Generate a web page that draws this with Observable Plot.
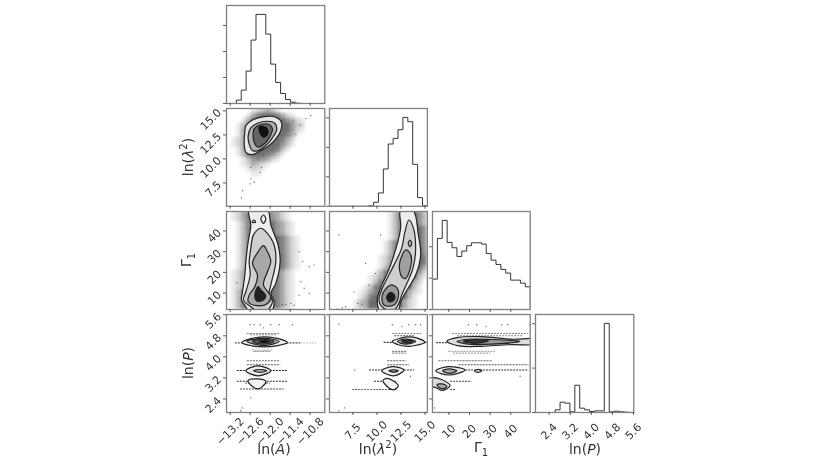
<!DOCTYPE html>
<html><head><meta charset="utf-8">
<script src="https://cdn.jsdelivr.net/npm/d3@7"></script>
<script src="https://cdn.jsdelivr.net/npm/@observablehq/plot@0.6"></script>
<style>
html,body{margin:0;padding:0;background:#fff;}
#chart{position:relative;width:822px;height:463px;overflow:hidden;font-family:"DejaVu Sans";filter:blur(0.4px);}
#chart svg{position:absolute;overflow:visible;}
.lab{position:absolute;font-size:14px;color:#333;white-space:nowrap;transform:translate(-50%,-50%);line-height:1;}
.lab.rot{transform:translate(-50%,-50%) rotate(-90deg);}
.lab sup{font-size:10px;line-height:0;}
.lab sub{font-size:10px;line-height:0;}
</style></head><body><div id="chart"></div>
<script>
// axis domains and ticks
const domA=[-13.31,-10.36], domL=[5.07,15.25], domG=[2.07,49.4], domP=[1.885,5.61];
const ticksA=[-13.2,-12.6,-12.0,-11.4,-10.8], ticksL=[7.5,10,12.5,15], ticksG=[10,20,30,40], ticksP=[2.4,3.2,4.0,4.8,5.6];
// histogram counts (20 bins each)
const histA=[0,0,128,513,1244,2436,3423,3423,2667,1513,808,385,154,51,13,0,0,0,0,0];
const histL=[0,0,0,0,0,0,0,0,23,136,452,1266,2113,2305,2599,3017,2870,1424,294,23];
const histG=[968,2266,2840,2138,1968,1691,1862,2032,2128,2128,2085,1787,1574,1436,1277,1160,936,936,840,723];
const histP=[0,0,0,0,60,232,210,15,614,97,60,22,37,37,2007,15,30,15,7,0];
// scatter haze grids, darkness 0-9, top row first
const gridAL=["00000123431000000000","00001467776421000000","00014777777754210000","00136777777775320000","00146777777775210000","00146777777764100000","01246777777642000000","01246777777531000000","00146777776310000000","00136777653100000000","00013565421000000000","00012432100000000000","00001221000000000000","00000110000000000000"];
const gridAG=["01246777754210000000","01246777754210000000","00136777775421000000","00136777775421000000","00136777775421000000","00136777777642100000","00136777777642100000","00136777777642100000","00136777777642100000","00136777777642100000","00136777777642100000","00136777777642100000","01246777776421000000","01246777776421000000","01246777776421000000","01246777776421000000","01367777776421000000","01367777776421000000","01367777776421000000","01367777776421000000"];
const gridLG=["00000000000013677753","00000000000013677753","00000000000013677753","00000000000013677775","00000000000013677775","00000000000013677775","00000000000136777775","00000000000136777775","00000000000136777775","00000000001246777776","00000000001246777776","00000000001367777774","00000000013677777752","00000000124677777731","00000000136777777420","00000001367777777310","00000012467777774210","00000013677777773100","00000134777777742100","00000134777777742100"];
// contour levels [x,y] in data units
const alOuter=[[-12.73,13.47],[-12.53,14.06],[-12.18,14.41],[-11.83,14.34],[-11.66,13.82],[-11.68,12.95],[-11.83,12.08],[-12.03,11.39],[-12.28,10.87],[-12.53,10.45],[-12.73,10.69],[-12.78,11.91],[-12.76,12.78]];
const alMid=[[-12.58,13.23],[-12.38,13.72],[-12.08,13.92],[-11.86,13.72],[-11.80,13.13],[-11.93,12.19],[-12.13,11.39],[-12.36,10.87],[-12.53,10.87],[-12.63,11.56],[-12.66,12.43]];
const alInner=[[-12.48,13.13],[-12.28,13.58],[-12.03,13.58],[-11.93,13.13],[-12.03,12.19],[-12.18,11.56],[-12.36,11.22],[-12.48,11.74],[-12.51,12.60]];
const alCore=[[-12.34,13.4],[-12.1,13.3],[-12.05,12.6],[-12.2,12.2],[-12.32,12.7]];
const agOuter=[[-12.63,50],[-12.58,42.9],[-12.66,34.8],[-12.73,25.2],[-12.76,18.7],[-12.83,10.6],[-12.86,6.6],[-12.73,3.4],[-12.63,1],[-11.98,1],[-11.88,5.8],[-11.98,9.8],[-11.83,14.7],[-11.70,25.2],[-11.76,33.2],[-11.98,42.9],[-12.08,50]];
const agMid=[[-12.28,41.3],[-12.5,38.1],[-12.58,31.6],[-12.63,25.2],[-12.6,18.7],[-12.73,10.6],[-12.8,6.6],[-12.58,3.4],[-12.38,1],[-12.13,1],[-11.93,5.8],[-12.03,9.8],[-11.98,13.9],[-11.83,25.2],[-11.88,33.2],[-12.13,39.7]];
const agInner=[[-12.2,32.9],[-12.36,30],[-12.53,24.4],[-12.38,18.7],[-12.46,13.1],[-12.63,9],[-12.66,5.8],[-12.38,3.9],[-12.08,5],[-11.98,8.2],[-12.2,13.9],[-12.08,20.3],[-11.98,25.2],[-12.08,30]];
const agCore=[[-12.36,13.1],[-12.46,9],[-12.4,6.1],[-12.2,6.6],[-12.13,8.7],[-12.28,11.5]];
const agLoop1=[[-12.2,47.7],[-12.13,45.8],[-12.2,43.7],[-12.28,45.8]];
const agLoop2=[[-12.54,44.2],[-12.44,44.2],[-12.48,45.3]];
const lgOuter=[[12.47,50],[12.47,41.3],[11.42,23.5],[10.38,12.3],[10.03,6.6],[10.38,1],[12.12,1],[12.47,5.8],[12.81,9],[14.03,18.7],[14.55,28.4],[14.31,38.1],[13.75,50]];
const lgMid=[[13.33,45.3],[12.92,39.7],[12.57,31.6],[11.77,23.5],[10.56,12.3],[10.21,6.6],[10.73,2.6],[11.77,1.8],[12.29,5],[12.57,9],[13.75,21.9],[14.03,31.6],[13.75,42.1]];
const lgUpper=[[12.99,30.8],[12.36,24.4],[12.57,17.9],[12.99,17.1],[13.61,26],[13.33,30]];
const lgLoop=[[13.44,35.6],[13.61,34],[13.44,32.4],[13.26,34]];
const lgLow=[[11.42,13.9],[10.56,9],[10.73,4.2],[11.77,4.2],[12.22,8.2],[12.12,12.3]];
const lgCore=[[11.42,10.3],[11.01,8.2],[11.25,5.8],[11.77,6.6],[11.84,9]];
const apOuter=[[-12.85,4.54],[-12.55,4.7],[-12.18,4.76],[-11.78,4.7],[-11.48,4.54],[-11.78,4.43],[-12.18,4.38],[-12.55,4.42]];
const apMid=[[-12.7,4.59],[-12.18,4.70],[-11.73,4.59],[-12.18,4.43]];
const apInner=[[-12.53,4.59],[-12.2,4.67],[-11.88,4.59],[-12.2,4.48]];
const apCore=[[-12.35,4.58],[-12.18,4.64],[-12.0,4.58],[-12.18,4.52]];
const apB1=[[-12.73,3.47],[-12.36,3.66],[-11.98,3.47],[-12.36,3.28]];
const apB2=[[-12.5,3.47],[-12.3,3.52],[-12.1,3.47],[-12.3,3.41]];
const apC=[[-12.66,3.10],[-12.38,3.16],[-12.13,3.07],[-12.26,2.84],[-12.38,2.78],[-12.53,2.87]];
const lpOuter=[[11.6,4.59],[12.47,4.71],[13.33,4.76],[14.2,4.71],[15,4.55],[14.2,4.45],[13.33,4.4],[12.29,4.45]];
const lpMid=[[12.12,4.59],[12.99,4.67],[14.03,4.59],[12.99,4.48]];
const lpInner=[[12.57,4.59],[13.16,4.65],[13.75,4.59],[13.16,4.52]];
const lpB1=[[10.49,3.47],[11.6,3.63],[12.81,3.5],[11.77,3.28]];
const lpB2=[[11.25,3.47],[11.77,3.51],[12.22,3.47],[11.77,3.42]];
const lpC=[[10.63,3.10],[11.08,3.18],[12.22,2.91],[11.77,2.75],[11.25,2.82]];
const gpOuter=[[9,4.59],[14.7,4.74],[26,4.77],[40.5,4.67],[49.4,4.70],[55,4.7],[55,4.45],[49.4,4.45],[38.9,4.46],[26,4.4],[14.7,4.42]];
const gpMid=[[13.9,4.59],[19.5,4.67],[30.8,4.66],[44.5,4.59],[30.8,4.48],[19.5,4.48]];
const gpCore=[[17.1,4.59],[22.7,4.65],[29.2,4.61],[22.7,4.51]];
const gpB1=[[3.7,3.47],[9.8,3.63],[17.9,3.5],[9.8,3.31]];
const gpB2=[[6.9,3.47],[10.2,3.54],[13.9,3.47],[10.2,3.37]];
const gpLoop=[[22.4,3.47],[24,3.52],[26,3.47],[24,3.41]];
const gpC=[[0,3.22],[2.1,3.22],[5.8,3.16],[10.6,2.91],[6.6,2.72],[3.4,2.84],[0,2.9]];
const gpC2=[[4.2,2.94],[6.9,2.97],[9,2.87],[6.6,2.78]];
// dotted horizontal streaks of the discrete ln(P) levels [x1,x2,y,grey]
const streakA=[[-13.06,-12.75,4.53,"#555"],[-11.6,-11.1,4.53,"#555"],[-11.1,-10.6,4.53,"#ccc"],[-12.7,-11.7,4.89,"#888"],[-12.6,-11.8,4.84,"#888"],[-12.5,-12.0,4.21,"#888"],[-12.55,-11.95,4.26,"#aaa"],[-12.7,-11.7,3.85,"#666"],[-12.7,-11.7,3.70,"#555"],[-13.0,-11.5,3.48,"#222"],[-13.0,-11.5,3.07,"#333"],[-12.9,-11.6,2.78,"#444"],[-12.75,-12.0,3.0,"#777"]];
const streakL=[[10.7,11.7,4.55,"#333"],[15,15.2,4.55,"#555"],[11.6,14.7,4.89,"#888"],[11.8,13.85,4.80,"#555"],[11.6,13.16,4.21,"#777"],[11.6,13.0,4.14,"#888"],[11.08,13,3.85,"#555"],[11.08,13.33,3.70,"#555"],[9.17,10.56,3.5,"#333"],[12.81,13.85,3.5,"#333"],[9.69,10.73,3.07,"#333"],[11.77,12.12,3.07,"#333"],[7.43,11.25,2.76,"#666"],[11.25,12,2.76,"#222"]];
const streakG=[[3.7,9,4.54,"#444"],[11.5,48.5,4.89,"#888"],[14,46,4.80,"#888"],[9.8,32.4,4.21,"#aaa"],[12,30,4.14,"#aaa"],[5,30.8,3.85,"#666"],[14.7,48.5,3.70,"#555"],[17.9,48.5,3.5,"#333"],[10.6,21,3.07,"#444"],[10.6,13,2.76,"#444"]];
// isolated samples
const dotsAL=[[-12.58,7.9],[-12.6,7.4],[-12.83,6.7],[-12.86,5.94],[-12.48,7.57],[-12.3,8.6],[-12.26,9.1],[-12.58,9.1],[-10.78,14.5],[-10.93,14.2],[-11.23,12.6],[-11.1,13.5],[-11.3,13.9]];
const dotsAG=[[-10.98,12.3],[-11.13,9],[-10.83,9.8],[-10.68,23.5],[-10.83,22.7],[-11.03,25.2],[-11.13,30],[-11.38,5],[-11.53,4.5],[-11.63,4.5],[-11.28,4.2],[-11.08,15.5],[-13.0,15]];
const dotsLG=[[6.04,38.1],[6.39,2.9],[6.74,3.4],[5.87,2.3],[8.47,4.5],[8,5],[7.6,10.6],[9.17,13.9],[9.34,9],[9.51,5.8],[10.38,38.1],[9.86,19.5],[8.82,24.4],[9.86,4.2]];
const dotsAP=[[-12.83,2.06],[-12.88,1.95],[-12.58,2.44],[-12.48,5.22],[-12.3,5.22],[-11.98,5.22],[-11.73,5.22],[-11.33,5.22],[-12.6,5.22],[-12.2,5.1]];
const dotsLP=[[6.04,1.95],[6.63,2.06],[7.7,3.5],[6.04,5.24],[13.5,3.26],[14.55,5.22],[13.33,5.22],[14.03,5.22],[11.6,5.22],[12.6,5.15]];
const dotsGP=[[3.06,2.06],[44.5,3.26],[35.6,5.22],[38.5,5.22],[49.2,5.22],[19.5,5.22],[23.5,5.22],[28,5.15]];

const fmt1=d3.format(".1f"), fmt0=d3.format("d");
const colsX=[[225.7,324],[329,426.9],[432.3,530],[534.7,633]];
const rowsY=[[5,103],[108,205.8],[211,309],[314,412]];
const M=50;
const chart=document.getElementById("chart");

function axes(xt,yt,xf,yf){
  return [
    Plot.axisX({ticks:xt,tickSize:3,anchor:"bottom",label:null,color:"#333",fontSize:11,tickRotate:xf?-45:0,textAnchor:"middle",lineAnchor:"middle",tickPadding:xf?16:0,tickFormat:xf||(()=>""),strokeWidth:0.8}),
    Plot.axisY({ticks:yt,tickSize:3,anchor:"left",label:null,color:"#333",fontSize:11,tickRotate:yf?-45:0,textAnchor:"end",tickPadding:4,tickFormat:yf||(()=>""),strokeWidth:0.8})
  ];
}
function place(c,r,xd,yd,marks,color){
  const [l,rr]=colsX[c],[t,b]=rowsY[r];
  const p=Plot.plot({width:rr-l+2*M,height:b-t+2*M,marginLeft:M,marginRight:M,marginTop:M,marginBottom:M,
    x:{domain:xd,label:null,axis:null},y:{domain:yd,label:null,axis:null},color,
    style:{background:"transparent",fontFamily:"DejaVu Sans"},marks});
  p.style.left=(l-M)+"px";p.style.top=(t-M)+"px";
  chart.appendChild(p);
}
const frame=()=>Plot.frame({stroke:"#808080",strokeWidth:1.3});
function histPanel(c,r,xd,vals,xt,yt,xf){
  const w=(xd[1]-xd[0])/vals.length;
  const pts=[{x:xd[0],y:0}].concat(vals.map((v,i)=>({x:xd[0]+i*w,y:v})),[{x:xd[1],y:vals[vals.length-1]},{x:xd[1],y:0}]);
  place(c,r,xd,[0,1.1*d3.max(vals)],[
    Plot.line(pts,{x:"x",y:"y",curve:"step-after",stroke:"#333",strokeWidth:1,clip:true}),
    frame(),
    ...axes(xt,yt,xf,null)
  ]);
}
function gridMark(xd,yd,rows){
  const cw=(xd[1]-xd[0])/20, rh=(yd[1]-yd[0])/20, cells=[];
  rows.forEach((s,j)=>[...s].forEach((ch,i)=>{ if(ch!=="0") cells.push({
    x1:xd[0]+i*cw,x2:xd[0]+(i+1)*cw,y2:yd[1]-j*rh,y1:yd[1]-(j+1)*rh,v:+ch});}));
  return Plot.rect(cells,{x1:"x1",x2:"x2",y1:"y1",y2:"y2",fill:"v",clip:true,imageFilter:"blur(1.6px)"});
}
const shape=(pts,fill,stroke="#222")=>Plot.line(pts,{x:d=>d[0],y:d=>d[1],curve:"catmull-rom-closed",fill,stroke,strokeWidth:1.2,clip:true});
const streaks=arr=>Plot.link(arr,{x1:d=>d[0],x2:d=>d[1],y1:d=>d[2],y2:d=>d[2],stroke:d=>d[3],strokeWidth:1.1,strokeDasharray:"2 1",clip:true});
const dots=arr=>Plot.dot(arr,{x:d=>d[0],y:d=>d[1],r:0.7,fill:"#666",clip:true});
const grey={type:"linear",domain:[0,9],range:["#ffffff","#3c3c3c"]};

histPanel(0,0,domA,histA,ticksA,[0,1000,2000,3000],null);
histPanel(1,1,domL,histL,ticksL,[0,1000,2000,3000],null);
histPanel(2,2,domG,histG,ticksG,[0,1000,2000],null);
histPanel(3,3,domP,histP,ticksP,[0,1000,2000],fmt1);

place(0,1,domA,domL,[gridMark(domA,domL,gridAL),dots(dotsAL),
  shape(alOuter,"#e6e6e6"),shape(alMid,"#b0b0b0"),shape(alInner,"#666"),shape(alCore,"#111","none"),
  frame(),...axes(ticksA,ticksL,null,fmt1)],grey);
place(0,2,domA,domG,[gridMark(domA,domG,gridAG),dots(dotsAG),
  shape(agOuter,"#eeeeee"),shape(agMid,"#d0d0d0"),shape(agInner,"#a8a8a8"),shape(agCore,"#222"),shape(agLoop1,"#eee"),shape(agLoop2,"#ddd"),
  frame(),...axes(ticksA,ticksG,null,fmt0)],grey);
place(1,2,domL,domG,[gridMark(domL,domG,gridLG),dots(dotsLG),
  shape(lgOuter,"#eeeeee"),shape(lgMid,"#cfcfcf"),shape(lgUpper,"#a0a0a0"),shape(lgLoop,"#bbb"),shape(lgLow,"#999"),shape(lgCore,"#1a1a1a"),
  frame(),...axes(ticksL,ticksG,null,null)],grey);
place(0,3,domA,domP,[streaks(streakA),dots(dotsAP),
  shape(apOuter,"#eeeeee"),shape(apMid,"#bbbbbb"),shape(apInner,"#666"),shape(apCore,"#111","none"),
  shape(apB1,"#eeeeee"),shape(apB2,"#bbb"),shape(apC,"#f2f2f2"),
  frame(),...axes(ticksA,ticksP,fmt1,fmt1)]);
place(1,3,domL,domP,[streaks(streakL),dots(dotsLP),
  shape(lpOuter,"#eeeeee"),shape(lpMid,"#aaaaaa"),shape(lpInner,"#333"),
  shape(lpB1,"#eeeeee"),shape(lpB2,"#aaa"),shape(lpC,"#f2f2f2"),
  frame(),...axes(ticksL,ticksP,fmt1,null)]);
place(2,3,domG,domP,[streaks(streakG),dots(dotsGP),
  shape(gpOuter,"#dddddd"),shape(gpMid,"#999999"),shape(gpCore,"#333"),
  shape(gpB1,"#eeeeee"),shape(gpB2,"#aaa"),shape(gpLoop,"#ddd"),shape(gpC,"#ddd"),shape(gpC2,"#aaa"),
  frame(),...axes(ticksG,ticksP,fmt0,null)]);

// axis titles
const labels=[["ln(<i>A</i>)",274,449,0],["ln(<i>λ</i><sup>2</sup>)",378,449,0],["Γ<sub>1</sub>",481,447,0],["ln(<i>P</i>)",585,449,0],
  ["ln(<i>λ</i><sup>2</sup>)",188,157,1],["Γ<sub>1</sub>",186,260,1],["ln(<i>P</i>)",188,363,1]];
labels.forEach(([h,x,y,r])=>{const d=document.createElement("div");d.className="lab"+(r?" rot":"");d.innerHTML=h;d.style.left=x+"px";d.style.top=y+"px";chart.appendChild(d);});
</script></body></html>
